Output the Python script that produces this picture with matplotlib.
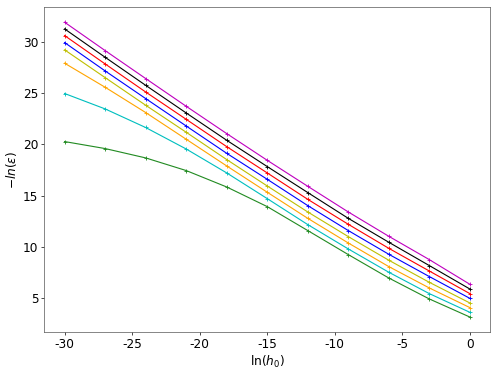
import numpy as np
import matplotlib
matplotlib.use("Agg")
import matplotlib.pyplot as plt

plt.rcParams['axes.unicode_minus'] = False

ln_h0 = [-30, -27, -24, -21, -18, -15, -12, -9, -6, -3, 0]

series_green = [20.26, 19.58, 18.67, 17.44, 15.84, 13.93, 11.60, 9.26, 6.98, 4.94, 3.18]
series_cyan = [24.94, 23.44, 21.63, 19.54, 17.21, 14.71, 12.18, 9.81, 7.54, 5.46, 3.64]
series_orange = [27.89, 25.55, 23.09, 20.49, 17.89, 15.33, 12.79, 10.39, 8.09, 6.01, 4.10]
series_yellow = [29.19, 26.49, 23.80, 21.17, 18.51, 15.94, 13.41, 11.01, 8.71, 6.56, 4.55]
series_blue = [29.90, 27.14, 24.45, 21.78, 19.12, 16.59, 14.03, 11.60, 9.29, 7.12, 5.00]
series_red = [30.58, 27.82, 25.09, 22.43, 19.77, 17.21, 14.64, 12.21, 9.87, 7.66, 5.46]
series_black = [31.23, 28.47, 25.74, 23.05, 20.39, 17.83, 15.30, 12.79, 10.46, 8.19, 5.91]
series_magenta = [31.88, 29.12, 26.40, 23.70, 21.04, 18.44, 15.91, 13.41, 11.04, 8.77, 6.37]

series = [
    (series_green, 'forestgreen'),
    (series_cyan, 'c'),
    (series_orange, 'orange'),
    (series_yellow, 'y'),
    (series_blue, 'b'),
    (series_red, 'r'),
    (series_black, 'k'),
    (series_magenta, 'm'),
]

xticks = [-30, -25, -20, -15, -10, -5, 0]
yticks = [5, 10, 15, 20, 25, 30]

DPI = 62.25
fig = plt.figure(figsize=(498 / DPI, 374 / DPI), dpi=DPI)
ax = fig.add_axes([0.089, 0.113, 0.895, 0.867])
for vals, col in series:
    ax.plot(ln_h0, vals, color=col, marker='+', markersize=5, linewidth=1.3)

ax.set_xticks(xticks)
ax.set_yticks(yticks)
ax.tick_params(labelsize=14)
for s in ax.spines.values():
    s.set_color('#555555')
ax.set_xlabel(r'ln($h_0$)', fontsize=14)
ax.set_ylabel(r'$-ln(\epsilon)$', fontsize=14)

fig.savefig('out.png', dpi=DPI)
